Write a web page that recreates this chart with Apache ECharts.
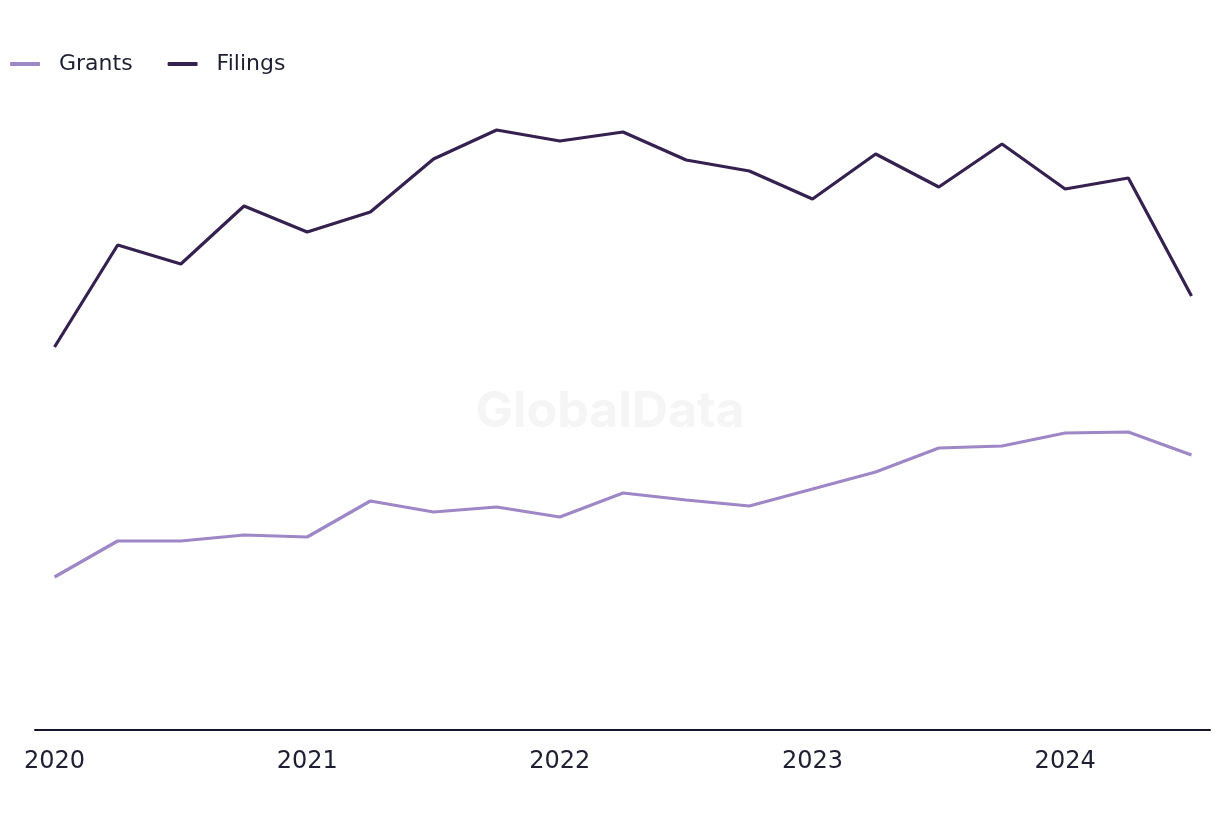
<!DOCTYPE html>
<html>
<head>
<meta charset="utf-8">
<script src="https://cdn.jsdelivr.net/npm/echarts@6/dist/echarts.min.js"></script>
<style>html,body{margin:0;padding:0;background:#fff;}#c{width:1220px;height:820px;}</style>
</head>
<body>
<div id="c"></div>
<script>
// Quarterly points, 2020 Q1 .. 2024 Q3
const quarters = ['2020 Q1','2020 Q2','2020 Q3','2020 Q4','2021 Q1','2021 Q2','2021 Q3','2021 Q4','2022 Q1','2022 Q2','2022 Q3','2022 Q4','2023 Q1','2023 Q2','2023 Q3','2023 Q4','2024 Q1','2024 Q2','2024 Q3'];
const filings = [383,485,466,524,498,518,571,600,589,598,570,559,531,576,543,586,541,552,434];
const grants  = [153,189,189,195,193,229,218,223,213,237,230,224,241,258,282,284,297,298,275];
const yearTickIdx = [0,4,8,12,16];
const yearLabels = ['2020','2021','2022','2023','2024'];

const FONT = '"DejaVu Sans", sans-serif';
const chart = echarts.init(document.getElementById('c'), null, {renderer:'canvas'});
chart.setOption({
  animation:false,
  backgroundColor:'#ffffff',
  grid:{left:35,right:10,top:100,bottom:90,containLabel:false},
  legend:{
    left:5, top:48,
    icon:'roundRect',
    itemWidth:30, itemHeight:4, itemGap:35,
    data:['Grants','Filings'],
    textStyle:{fontFamily:FONT,fontSize:22,color:'#1f1f33',padding:[0,0,0,14]}
  },
  graphic:[{
    type:'text', left:'center', top:387,
    style:{text:'GlobalData',fontFamily:'Inter, sans-serif',fontWeight:'bold',fontSize:50,fill:'#f5f5f5'},
    z:-1
  }],
  xAxis:{
    type:'value', min:-0.309, max:18.293,
    axisLine:{show:true,lineStyle:{color:'#14142b',width:2}},
    axisTick:{show:false},
    splitLine:{show:false},
    axisLabel:{
      customValues:yearTickIdx,
      margin:20,
      fontFamily:FONT,fontSize:24,color:'#1f1f33',
      formatter:function(v){const k=yearTickIdx.indexOf(Math.round(v));return k>=0?yearLabels[k]:'';}
    }
  },
  yAxis:{type:'value',min:0,max:630,show:false,splitLine:{show:false}},
  series:[
    {name:'Grants',type:'line',symbol:'none',data:grants.map((v,i)=>[i,v]),
     lineStyle:{color:'#9e87c6',width:3.2},itemStyle:{color:'#9e87c6'}},
    {name:'Filings',type:'line',symbol:'none',data:filings.map((v,i)=>[i,v]),
     lineStyle:{color:'#35214f',width:3.2},itemStyle:{color:'#35214f'}}
  ]
});
</script>
</body>
</html>
